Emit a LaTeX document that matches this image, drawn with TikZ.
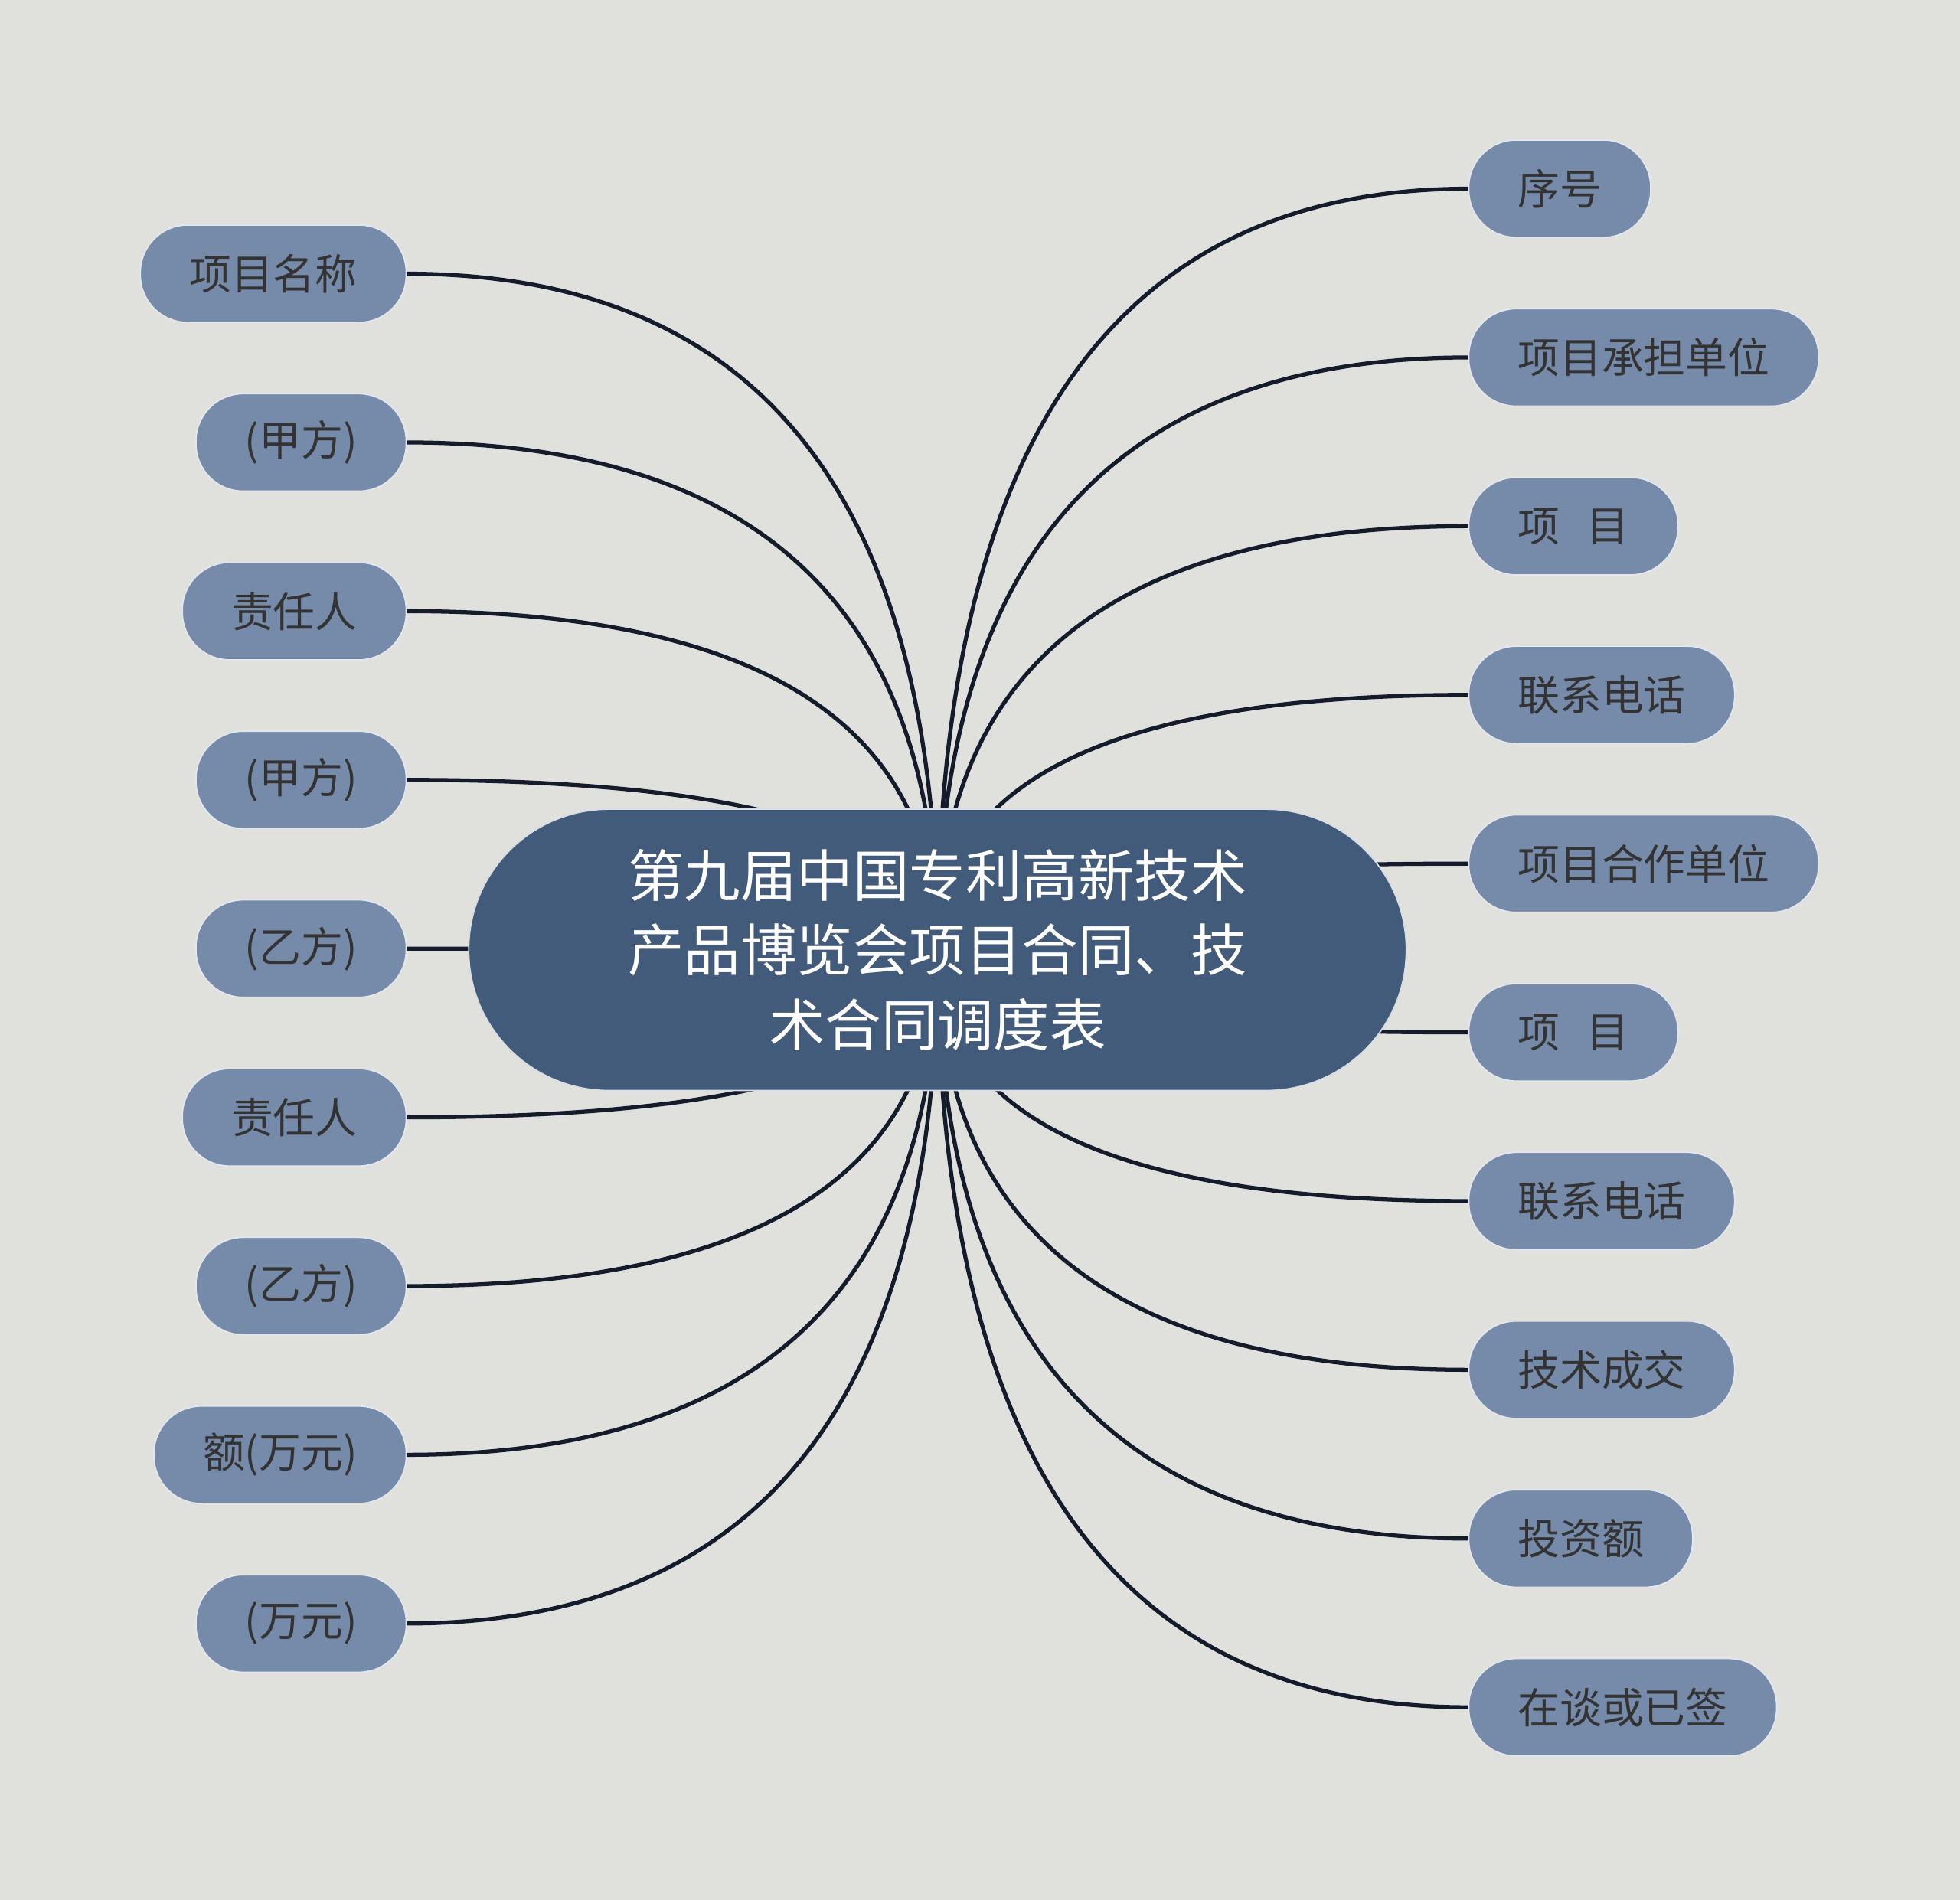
\documentclass[tikz,border=0pt]{standalone}
\usepackage{fontspec}
\setmainfont{Noto Sans CJK SC}
\usepackage{tikz}
\usetikzlibrary{calc}
\definecolor{mapPaper}{HTML}{E0E1DC}
\definecolor{mapRootBlue}{HTML}{425B7A}
\definecolor{mapLeafBlue}{HTML}{768BA9}
\definecolor{mapInk}{HTML}{333333}
\definecolor{mapLinkNavy}{HTML}{141C2B}
\pgfdeclarelayer{paper}
\pgfdeclarelayer{links}
\pgfsetlayers{paper,links,main}
\tikzset{
  mapRoot/.style={
    fill=mapRootBlue,
    draw=white!80!mapRootBlue,
    line width=0.5pt,
    rounded corners=1.83cm,
    minimum width=12.245cm,
    minimum height=3.674cm,
    align=center,
    text=white,
    font=\fontsize{20.9pt}{27.8pt}\selectfont,
    inner sep=0pt,
    outer sep=0pt
  },
  mapLeaf/.style={
    fill=mapLeafBlue,
    draw=white!80!mapLeafBlue,
    line width=0.5pt,
    rounded corners=0.62cm,
    minimum height=1.273cm,
    inner xsep=0.64cm,
    inner ysep=0pt,
    outer sep=0pt,
    text=mapInk,
    font=\fontsize{15.6pt}{18pt}\selectfont
  },
  leftLeaf/.style={mapLeaf, anchor=east},
  rightLeaf/.style={mapLeaf, anchor=west},
  mapLink/.style={draw=mapLinkNavy, line width=1.5pt}
}

\begin{document}
\begin{tikzpicture}[x=0.016327cm,y=-0.016327cm]
  \useasboundingbox (0,0) rectangle (1568,1520);
  \begin{pgfonlayer}{paper}
    \fill[mapPaper] (0,0) rectangle (1568,1520);
  \end{pgfonlayer}

  \node[mapRoot] (root) at (750,760)
    {第九届中国专利高新技术\\产品博览会项目合同、技\\术合同调度表};

  % left branch
  \node[leftLeaf] (l1) at (325,219) {项目名称};
  \node[leftLeaf] (l2) at (325,354) {(甲方)};
  \node[leftLeaf] (l3) at (325,489) {责任人};
  \node[leftLeaf] (l4) at (325,624) {(甲方)};
  \node[leftLeaf] (l5) at (325,759) {(乙方)};
  \node[leftLeaf] (l6) at (325,894) {责任人};
  \node[leftLeaf] (l7) at (325,1029) {(乙方)};
  \node[leftLeaf] (l8) at (325,1164) {额(万元)};
  \node[leftLeaf] (l9) at (325,1299) {(万元)};

  % right branch
  \node[rightLeaf] (r1) at (1175,151) {序号};
  \node[rightLeaf] (r2) at (1175,286) {项目承担单位};
  \node[rightLeaf] (r3) at (1175,421) {项\hspace{0.65em}目};
  \node[rightLeaf] (r4) at (1175,556) {联系电话};
  \node[rightLeaf] (r5) at (1175,691) {项目合作单位};
  \node[rightLeaf] (r6) at (1175,826) {项\hspace{0.65em}目};
  \node[rightLeaf] (r7) at (1175,961) {联系电话};
  \node[rightLeaf] (r8) at (1175,1096) {技术成交};
  \node[rightLeaf] (r9) at (1175,1231) {投资额};
  \node[rightLeaf] (r10) at (1175,1366) {在谈或已签};

  \begin{pgfonlayer}{links}
    \foreach \i in {1,...,9}{
      \coordinate (bend) at (l\i.east -| root.center);
      \draw[mapLink] (l\i.east) .. controls ($(l\i.east)!2/3!(bend)$)
        and ($(root.center)!2/3!(bend)$) .. (root.center);
    }
    \foreach \i in {1,...,10}{
      \coordinate (bend) at (r\i.west -| root.center);
      \draw[mapLink] (r\i.west) .. controls ($(r\i.west)!2/3!(bend)$)
        and ($(root.center)!2/3!(bend)$) .. (root.center);
    }
  \end{pgfonlayer}
\end{tikzpicture}
\end{document}
